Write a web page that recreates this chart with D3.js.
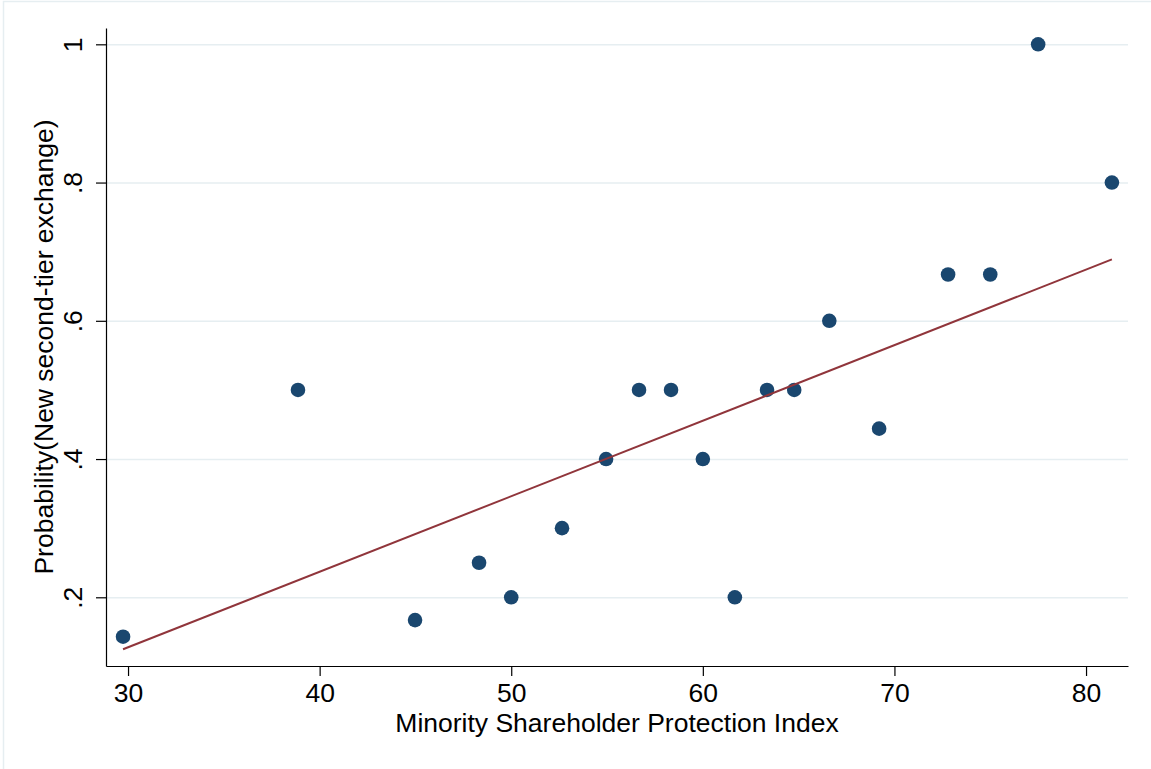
<!DOCTYPE html>
<html>
<head>
<meta charset="utf-8">
<script src="https://cdn.jsdelivr.net/npm/d3@7"></script>
<style>
  body { margin: 0; background: #fff; }
  svg { display: block; font-family: "Liberation Sans", Arial, sans-serif; }
  .grid line { stroke: #e6eef1; stroke-width: 1.6; }
  .grid path { display: none; }
  .axis path, .axis line { stroke: #000; stroke-width: 1.2; }
  .axis text { font-size: 26.5px; fill: #000; }
</style>
</head>
<body>
<div id="chart"></div>
<script>
// protection index (x) and probability of a new second-tier exchange (y)
const protectionIndex = [29.74, 38.87, 44.98, 48.32, 50.0, 52.65, 54.95, 56.67, 58.34, 60.0,
    61.67, 63.35, 64.77, 66.6, 69.2, 72.8, 75.0, 77.5, 81.35];
const probability = [0.143, 0.5, 0.167, 0.25, 0.2, 0.3, 0.4, 0.5, 0.5, 0.4,
    0.2, 0.5, 0.5, 0.6, 0.444, 0.667, 0.667, 1.0, 0.8];

// fitted line endpoints (lfit)
const fitX = [29.74, 81.35];
const fitY = [0.1248, 0.6888];

const xTicks = [30, 40, 50, 60, 70, 80];
const yTicks = [0.2, 0.4, 0.6, 0.8, 1];

const data = protectionIndex.map((v, i) => ({ x: v, y: probability[i] }));
const fit = fitX.map((v, i) => ({ x: v, y: fitY[i] }));

const W = 1151, H = 769;
const margin = { top: 28, right: 23, bottom: 103, left: 106 };
const width = W - margin.left - margin.right;
const height = H - margin.top - margin.bottom;

const root = d3.select("#chart")
    .append("svg")
    .attr("width", W)
    .attr("height", H);

// faint outer frame
root.append("rect")
    .attr("x", 3.5)
    .attr("y", 1.5)
    .attr("width", W + 20)
    .attr("height", H + 20)
    .attr("fill", "none")
    .attr("stroke", "#e6eef1")
    .attr("stroke-width", 1.5);

const svg = root.append("g")
    .attr("transform", `translate(${margin.left},${margin.top})`);

const x = d3.scaleLinear()
    .domain([28.85, 82.19])
    .range([0, width]);

const y = d3.scaleLinear()
    .domain([0.1006, 1.0236])
    .range([height, 0]);

svg.append("g")
    .attr("class", "grid")
    .call(d3.axisLeft(y)
        .tickValues(yTicks)
        .tickSize(-width)
        .tickFormat("")
    );

const fmtY = d => d === 1 ? "1" : d3.format(".1f")(d).replace(/^0/, "");

const yAxis = svg.append("g")
    .attr("class", "axis y-axis")
    .call(d3.axisLeft(y).tickValues(yTicks).tickSize(10).tickSizeOuter(0).tickFormat(fmtY));

yAxis.selectAll(".tick text")
    .attr("x", 0)
    .attr("dy", 0)
    .attr("text-anchor", "middle")
    .attr("transform", "translate(-24,0) rotate(-90)");

const xAxis = svg.append("g")
    .attr("class", "axis x-axis")
    .attr("transform", `translate(0,${height})`)
    .call(d3.axisBottom(x).tickValues(xTicks).tickSize(10).tickSizeOuter(0));

xAxis.selectAll(".tick text")
    .attr("dy", 0)
    .attr("y", 36);

// x title
svg.append("text")
    .attr("x", width / 2)
    .attr("y", height + 66)
    .attr("text-anchor", "middle")
    .attr("font-size", 26.5)
    .text("Minority Shareholder Protection Index");

// y title
svg.append("text")
    .attr("transform", `translate(${53 - margin.left},${height / 2}) rotate(-90)`)
    .attr("text-anchor", "middle")
    .attr("font-size", 26.5)
    .text("Probability(New second-tier exchange)");

svg.selectAll(".dot")
    .data(data)
    .enter()
    .append("circle")
    .attr("class", "dot")
    .attr("cx", d => x(d.x))
    .attr("cy", d => y(d.y))
    .attr("r", 7.3)
    .attr("fill", "#1a476f");

const line = d3.line()
    .x(d => x(d.x))
    .y(d => y(d.y));

svg.append("path")
    .datum(fit)
    .attr("d", line)
    .attr("fill", "none")
    .attr("stroke", "#90353b")
    .attr("stroke-width", 2);
</script>
</body>
</html>
